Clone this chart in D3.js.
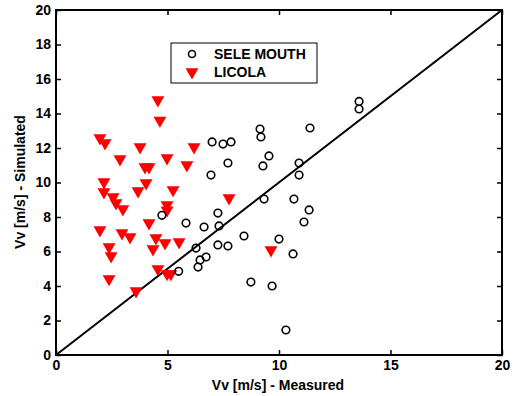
<!DOCTYPE html>
<html>
<head>
<meta charset="utf-8">
<script src="https://cdn.jsdelivr.net/npm/d3@7"></script>
<style>
  body { margin: 0; background: #fff; }
  text { font-family: "Liberation Sans", Arial, sans-serif; font-weight: bold; }
</style>
</head>
<body>
<svg id="chart" width="515" height="396"></svg>
<script>
// SELE MOUTH (measured, simulated)
const seleX = [4.75, 5.5, 5.83, 6.28, 6.37, 6.46, 6.73, 6.64, 6.95, 7.0, 7.26, 7.31, 7.26, 7.49, 7.71, 7.71, 7.85, 8.43, 8.74,
  9.15, 9.19, 9.28, 9.33, 9.55, 9.69, 10.0, 10.31, 10.63, 10.67, 10.9, 10.9, 11.12, 11.35, 11.39, 13.59, 13.59];
const seleY = [8.1, 4.85, 7.65, 6.2, 5.1, 5.51, 5.68, 7.42, 10.43, 12.35, 8.23, 7.48, 6.38, 12.23, 11.13, 6.32, 12.35, 6.9, 4.23,
  13.1, 12.64, 10.96, 9.04, 11.54, 4.0, 6.72, 1.45, 5.86, 9.04, 11.13, 10.43, 7.71, 8.41, 13.16, 14.7, 14.26];

// LICOLA
const licolaX = [4.57, 4.66, 1.97, 2.2, 3.77, 6.19, 2.87, 4.98, 5.87, 3.99, 4.17, 2.15, 4.04, 2.15, 3.68, 5.25, 2.56, 2.69, 3.0,
  4.98, 4.98, 7.76, 1.97, 4.17, 2.96, 3.32, 2.38, 2.47, 4.48, 4.35, 4.89, 5.52, 4.57, 4.98, 5.15, 2.38, 3.59, 9.64];
const licolaY = [14.78, 13.6, 12.58, 12.29, 12.06, 12.06, 11.36, 11.42, 11.01, 10.9, 10.9, 10.03, 9.97, 9.45, 9.51, 9.57, 9.16, 8.81, 8.46,
  8.7, 8.4, 9.1, 7.25, 7.65, 7.07, 6.84, 6.26, 5.74, 6.78, 6.14, 6.49, 6.55, 4.99, 4.7, 4.7, 4.41, 3.71, 6.09];

const xTicks = [0, 5, 10, 15, 20];
const yTicks = [0, 2, 4, 6, 8, 10, 12, 14, 16, 18, 20];

const svg = d3.select("#chart");
const mLeft = 56, mRight = 502, mTop = 10, mBottom = 355;

const x = d3.scaleLinear().domain([0, 20]).range([mLeft, mRight]);
const y = d3.scaleLinear().domain([0, 20]).range([mBottom, mTop]);

const tickLen = 5;

// axes with inward ticks
svg.append("g")
  .attr("transform", `translate(0,${mBottom})`)
  .call(d3.axisBottom(x).tickValues(xTicks).tickSize(-tickLen).tickPadding(5))
  .call(g => g.select(".domain").remove());
svg.append("g")
  .attr("transform", `translate(0,${mTop})`)
  .call(d3.axisTop(x).tickValues(xTicks).tickSize(-tickLen).tickFormat(""))
  .call(g => g.select(".domain").remove());
svg.append("g")
  .attr("transform", `translate(${mLeft},0)`)
  .call(d3.axisLeft(y).tickValues(yTicks).tickSize(-tickLen).tickPadding(5))
  .call(g => g.select(".domain").remove());
svg.append("g")
  .attr("transform", `translate(${mRight},0)`)
  .call(d3.axisRight(y).tickValues(yTicks).tickSize(-tickLen).tickFormat(""))
  .call(g => g.select(".domain").remove());

svg.selectAll(".tick line").attr("stroke", "#000").attr("stroke-width", 1.5);
svg.selectAll(".tick text").attr("font-size", 14).attr("fill", "#000");

// box
svg.append("rect")
  .attr("x", mLeft).attr("y", mTop)
  .attr("width", mRight - mLeft).attr("height", mBottom - mTop)
  .attr("fill", "none").attr("stroke", "#000").attr("stroke-width", 2);

// 1:1 line
svg.append("line")
  .attr("x1", x(0)).attr("y1", y(0))
  .attr("x2", x(20)).attr("y2", y(20))
  .attr("stroke", "#000").attr("stroke-width", 2);

const tri = d3.symbol().type(d3.symbolTriangle).size(72);

svg.append("g")
  .selectAll("path")
  .data(licolaX.map((v, i) => [v, licolaY[i]]))
  .join("path")
  .attr("d", tri)
  .attr("transform", d => `translate(${x(d[0])},${y(d[1])}) rotate(180)`)
  .attr("fill", "#ff0000");

svg.append("g")
  .selectAll("circle")
  .data(seleX.map((v, i) => [v, seleY[i]]))
  .join("circle")
  .attr("cx", d => x(d[0]))
  .attr("cy", d => y(d[1]))
  .attr("r", 3.8)
  .attr("fill", "none")
  .attr("stroke", "#000")
  .attr("stroke-width", 1.6);

// legend
const lg = svg.append("g");
lg.append("rect")
  .attr("x", 171).attr("y", 43).attr("width", 146).attr("height", 40)
  .attr("fill", "#fff").attr("stroke", "#000").attr("stroke-width", 1);
lg.append("circle")
  .attr("cx", 192).attr("cy", 54).attr("r", 3.5)
  .attr("fill", "none").attr("stroke", "#000").attr("stroke-width", 1.6);
lg.append("path")
  .attr("d", tri)
  .attr("transform", "translate(192,72) rotate(180)")
  .attr("fill", "#ff0000");
lg.append("text").attr("x", 214).attr("y", 59).attr("font-size", 14).text("SELE MOUTH");
lg.append("text").attr("x", 214).attr("y", 77).attr("font-size", 14).text("LICOLA");

// axis titles
svg.append("text")
  .attr("x", 278).attr("y", 390)
  .attr("text-anchor", "middle").attr("font-size", 14)
  .text("Vv [m/s] - Measured");
svg.append("text")
  .attr("transform", "translate(25,182) rotate(-90)")
  .attr("text-anchor", "middle").attr("font-size", 14)
  .text("Vv [m/s] - Simulated");
</script>
</body>
</html>
